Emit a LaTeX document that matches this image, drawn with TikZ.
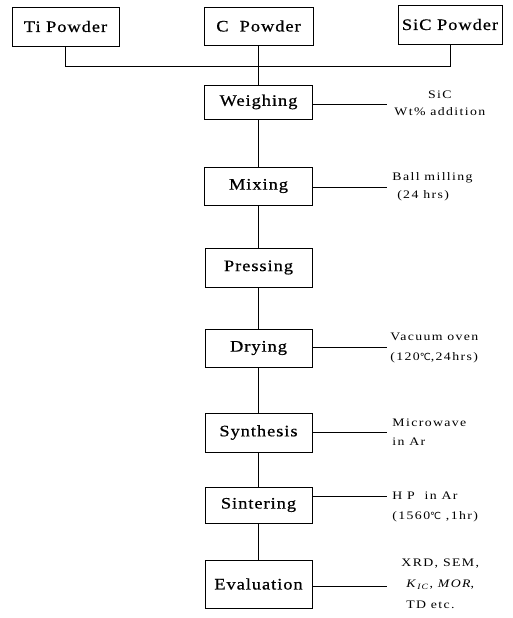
\documentclass[tikz,border=0pt]{standalone}
\usepackage{fontspec}
\setmainfont{Liberation Serif}
\newfontfamily\boxfont{Liberation Serif}[FakeStretch=1.15, LetterSpace=6, FakeBold=0.6]
\newfontfamily\notefont{Liberation Serif}[FakeStretch=1.2, LetterSpace=12]
\newfontfamily\symfont{DejaVu Sans}[Scale=0.85]
\newcommand{\degc}{{\symfont ℃}}
\begin{document}
\begin{tikzpicture}[x=1pt,y=-1pt,
  every path/.style={line width=0.9pt},
  procbox/.style={draw, minimum width=107pt, inner sep=0pt, font=\boxfont\fontsize{16}{18}\selectfont},
  note/.style={inner sep=0pt, anchor=west, align=left, font=\notefont\fontsize{11.5}{19}\selectfont}]
\useasboundingbox (0,0) rectangle (513,618);
% top powders
\node[procbox, minimum height=39pt] (ti) at (65.5,26.5) {Ti Powder};
\node[procbox, minimum width=109pt, minimum height=38pt] (c) at (258.5,26) {C\ \ Powder};
\node[procbox, minimum width=104pt, minimum height=39pt] (sic) at (450,24.5) {SiC Powder};
\coordinate (j) at (258.5,66);
% process steps
\node[procbox, minimum width=108pt, minimum height=34pt] (weigh) at (258.5,102) {Weighing};
\node[procbox, minimum width=108pt, minimum height=38pt] (mix) at (258.5,186) {Mixing};
\node[procbox, minimum height=39pt] (press) at (258.5,267.5) {Pressing};
\node[procbox, minimum height=38pt] (dry) at (258.5,348) {Drying};
\node[procbox, minimum height=39pt] (syn) at (258.5,432.5) {Synthesis};
\node[procbox, minimum height=36pt] (sint) at (258.5,505) {Sintering};
\node[procbox, minimum height=48pt] (eval) at (258.5,584) {Evaluation};
% notes
\node[note, align=center, font=\notefont\fontsize{11.5}{17}\selectfont] (lw) at (394,103) {SiC\\Wt\% addition};
\node[note, font=\notefont\fontsize{11.5}{18}\selectfont] (lm) at (392,187) {Ball milling\\\ (24 hrs)};
\node[note, font=\notefont\fontsize{11.5}{20}\selectfont] (ld) at (390,348) {Vacuum oven\\(120\degc,24hrs)};
\node[note] (ls) at (392,432) {Microwave\\in Ar};
\node[note, font=\notefont\fontsize{11.5}{20}\selectfont] (lsi) at (392,507) {H P\ \ in Ar\\(1560\degc\ ,1hr)};
\node[note, font=\notefont\fontsize{11.5}{21}\selectfont] (le) at (401,584) {XRD, SEM,\\\ \textit{K}\textsubscript{\textit{IC}}, \textit{MOR},\\\ TD etc.};
% connectors
\draw (ti.south) |- (j);
\draw (sic.south) |- (j);
\draw (c.south) -- (weigh.north);
\draw (weigh.south) -- (mix.north);
\draw (mix.south) -- (press.north);
\draw (press.south) -- (dry.north);
\draw (dry.south) -- (syn.north);
\draw (syn.south) -- (sint.north);
\draw (sint.south) -- (eval.north);
\coordinate (ew) at (387,104);
\coordinate (em) at (387,187);
\coordinate (ed) at (387,347);
\coordinate (es) at (387,432);
\coordinate (esi) at (387,496);
\coordinate (ee) at (387,586);
\draw (weigh.east |- ew) -- (ew);
\draw (mix.east |- em) -- (em);
\draw (dry.east |- ed) -- (ed);
\draw (syn.east |- es) -- (es);
\draw (sint.east |- esi) -- (esi);
\draw (eval.east |- ee) -- (ee);
\end{tikzpicture}
\end{document}
